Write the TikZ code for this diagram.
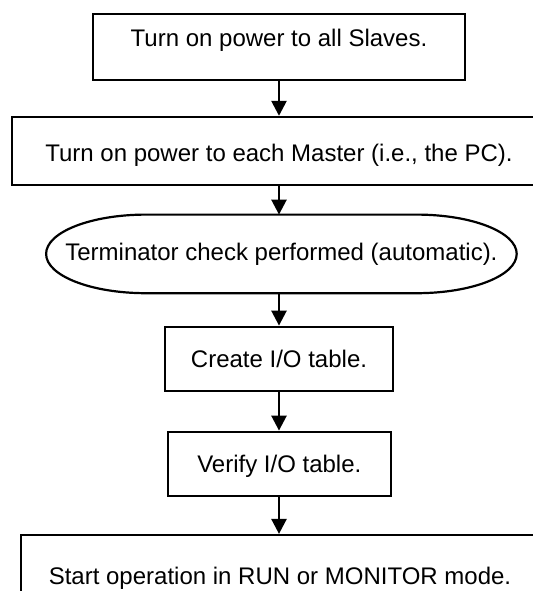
\documentclass[tikz,border=0pt]{standalone}
\usepackage{fontspec}
\setmainfont{Liberation Sans}
\usetikzlibrary{arrows.meta}

\begin{document}
\begin{tikzpicture}[x=0.5pt,y=0.5pt,>={Triangle[length=7.5pt,width=7.5pt]},
  stepbox/.style={draw,line width=1.1pt,inner sep=0pt,font=\fontsize{12}{14}\selectfont},
  captext/.style={text height=8.6pt,text depth=0pt},
  flow/.style={->,line width=1.3pt}]
  \clip (0,0) rectangle (533,591);
  \node[stepbox,minimum width=186pt,minimum height=33pt,text height=9pt,text depth=10.2pt] (slaves) at (279,543.7) {Turn on power to all Slaves.};
  \node[stepbox,minimum width=266.7pt,minimum height=34.1pt,text height=11.2pt,text depth=0.3pt] (master) at (279,440) {Turn on power to each Master (i.e., the PC).};
  \node[stepbox,draw=none,outer sep=0pt,minimum width=235.3pt,minimum height=39.3pt] (check) at (281.4,337.1) {Terminator check performed (automatic).};
  \draw[line width=1.1pt] ([xshift=50pt]check.north west) -- ([xshift=-50pt]check.north east)
    .. controls +(27.6pt,0) and +(0,10.9pt) .. (check.east)
    .. controls +(0,-10.9pt) and +(27.6pt,0) .. ([xshift=-50pt]check.south east)
    -- ([xshift=50pt]check.south west)
    .. controls +(-27.6pt,0) and +(0,-10.9pt) .. (check.west)
    .. controls +(0,10.9pt) and +(-27.6pt,0) .. ([xshift=50pt]check.north west) -- cycle;
  \node[stepbox,captext,minimum width=113.8pt,minimum height=32pt] (create) at (279,232.3) {Create I/O table.};
  \node[stepbox,captext,minimum width=111.4pt,minimum height=32pt] (verify) at (279.3,127.3) {Verify I/O table.};
  \node[stepbox,captext,minimum width=259pt,minimum height=40.5pt] (start) at (280,15.5) {Start operation in RUN or MONITOR mode.};
  \draw[flow] (slaves.south) -- (slaves.south |- master.north);
  \draw[flow] (slaves.south |- master.south) -- (slaves.south |- check.north);
  \draw[flow] (slaves.south |- check.south) -- (slaves.south |- create.north);
  \draw[flow] (slaves.south |- create.south) -- (slaves.south |- verify.north);
  \draw[flow] (slaves.south |- verify.south) -- (slaves.south |- start.north);
\end{tikzpicture}
\end{document}
